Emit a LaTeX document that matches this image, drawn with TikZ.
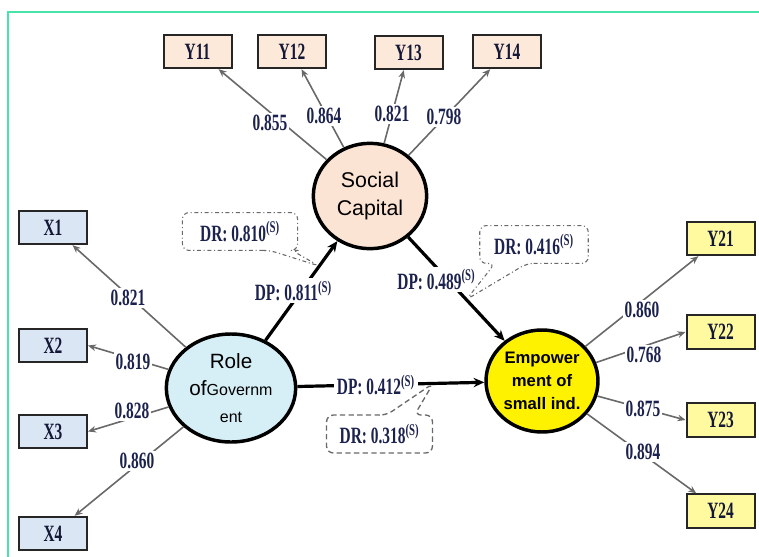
\documentclass[tikz,border=0pt]{standalone}
\usepackage{fontspec}
\setmainfont{Liberation Serif}
\setsansfont{Liberation Sans}
\newfontfamily\narrowserif[FakeStretch=0.66]{Liberation Serif}
\usepackage{tikz}
\usetikzlibrary{shapes.geometric,calc,arrows.meta}

\definecolor{framegreen}{RGB}{70,228,168}
\definecolor{numblue}{RGB}{28,34,78}
\definecolor{peach}{RGB}{252,228,213}
\definecolor{peachbox}{RGB}{253,233,217}
\definecolor{skyfill}{RGB}{214,239,247}
\definecolor{skybox}{RGB}{218,230,244}
\definecolor{paleyellow}{RGB}{255,250,160}
\definecolor{loadgray}{RGB}{105,105,105}

\begin{document}
\begin{tikzpicture}[x=0.75pt,y=-0.75pt,
    indicator/.style={draw=black!85, line width=1.5pt, minimum width=51pt, minimum height=25pt, inner sep=0pt,
        font=\narrowserif\bfseries\fontsize{17.5}{18}\selectfont, text=numblue!70!black},
    construct/.style={ellipse, draw=black, line width=2.6pt, inner sep=0pt, align=center},
    loading/.style={draw=loadgray, line width=1.2pt, -{Stealth[length=6pt,width=5pt]}},
    weight/.style={fill=white, inner sep=1.5pt, text=numblue, font=\narrowserif\bfseries\fontsize{17.5}{18}\selectfont},
    effect/.style={draw=black, line width=2.4pt, -{Stealth[length=8pt,width=7pt]}},
    dpnote/.style={weight, inner sep=2pt},
    drnote/.style={text=numblue, font=\narrowserif\bfseries\fontsize{17.5}{18}\selectfont, minimum height=28pt, inner sep=0pt},
    callout/.style={draw=loadgray, line width=0.8pt, rounded corners=5pt}]
    \useasboundingbox (0,0) rectangle (759,556);
    \draw[framegreen, line width=1.6pt] (8,600) |- (800,12);

    \node[construct, fill=peach, minimum width=85pt, minimum height=79pt, font=\sffamily\fontsize{16}{21}\selectfont] (SC) at (370,196) {Social\\Capital};
    \node[construct, fill=skyfill, minimum width=97pt, minimum height=81pt, font=\sffamily\fontsize{15.5}{20}\selectfont] (Role) at (231,388)
        {Role\\of{\fontsize{12}{20}\selectfont Governm}\\{\fontsize{12}{20}\selectfont ent}};
    \node[construct, fill=yellow, minimum width=84pt, minimum height=76.5pt, font=\sffamily\bfseries\fontsize{12.5}{17.25}\selectfont] (Emp) at (542,381)
        {Empower\\ment of\\small ind.};

    \foreach \n/\x/\y in {Y11/197.5/51.5, Y12/292/51.5, Y13/408.5/52.5, Y14/507/51.5}
        \node[indicator, fill=peachbox] (\n) at (\x,\y) {\n};
    \foreach \n/\y in {X1/227.5, X2/345.5, X3/431.5, X4/533.5}
        \node[indicator, fill=skybox] (\n) at (53,\y) {\n};
    \foreach \n/\y in {Y21/238.5, Y22/332, Y23/420, Y24/511}
        \node[indicator, fill=paleyellow] (\n) at (720.5,\y) {\n};

    \foreach \s/\t/\v/\lx/\ly [count=\i] in {SC/Y11/0.855/270/123, SC/Y12/0.864/324/116, SC/Y13/0.821/392/114, SC/Y14/0.798/444/117,
        Role/X1/0.821/128/298, Role/X2.east/0.819/133/362, Role/X3.east/0.828/132/411, Role/X4/0.860/137/461,
        Emp/Y21/0.860/642/310, Emp/Y22.west/0.768/644/355, Emp/Y23.west/0.875/643/409, Emp/Y24/0.894/643/452}
        \draw[loading] (\s) -- (\t) node[weight] (w\i) at (\lx,\ly) {\v};

    \draw[effect] (Role) -- node[dpnote, pos=0.5, xshift=-6pt] (dp1) {DP: 0.811\textsuperscript{(S)}} (SC);
    \draw[effect] (SC) -- node[dpnote, pos=0.41, xshift=-8.5pt] (dp2) {DP: 0.489\textsuperscript{(S)}} (Emp);
    \draw[effect] (Role) -- node[dpnote, pos=0.42] (dp3) {DP: 0.412\textsuperscript{(S)}} (Emp);

    \coordinate (a1) at ($(Role)!0.635!(SC)$);
    \coordinate (a2) at ($(SC)!0.56!(Emp)$);
    \coordinate (a3) at ($(Role)!0.65!(Emp)$);
    \node[drnote, minimum width=86pt] (dr1) at (240,231.5) {DR: 0.810\textsuperscript{(S)}};
    \node[drnote, minimum width=81pt] (dr2) at (534,244.5) {DR: 0.416\textsuperscript{(S)}};
    \node[drnote, minimum width=79pt] (dr3) at (379.5,434) {DR: 0.318\textsuperscript{(S)}};
    \draw[callout, dash dot] ($(dr1.south)+(30,0)$) -- (dr1.south west) -- (dr1.north west) -- (dr1.north east)
        -- (dr1.south east) -- ($(dr1.south)+(52,0)$) -- (a1) -- cycle;
    \draw[callout, dash dot] ($(dr2.south)+(-7,0)$) -- (dr2.south east) -- (dr2.north east) -- (dr2.north west)
        -- (dr2.south west) -- ($(dr2.south)+(-39,0)$) -- (a2) -- cycle;
    \draw[callout, line width=1pt, dash pattern=on 4pt off 2.5pt] ($(dr3.north)+(7,0)$) -- (dr3.north west) -- (dr3.south west)
        -- (dr3.south east) -- (dr3.north east) -- ($(dr3.north)+(35,0)$) -- (a3) -- cycle;
\end{tikzpicture}
\end{document}
